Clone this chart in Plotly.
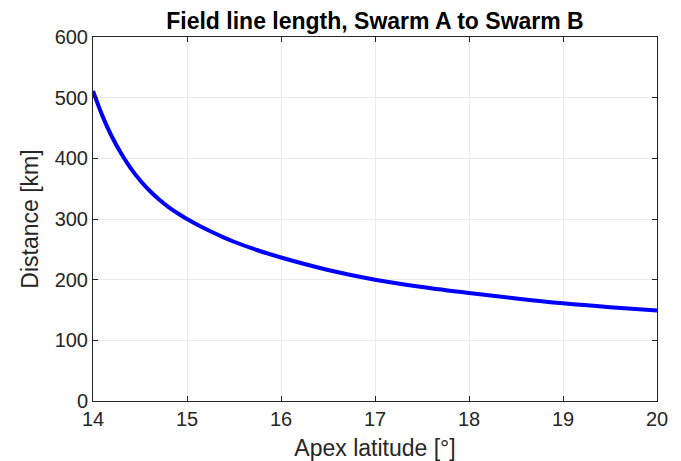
import plotly.graph_objects as go

apex_lat = [14.0, 14.1, 14.2, 14.3, 14.4, 14.5, 14.6, 14.7, 14.8, 14.9, 15.0,
            15.1, 15.2, 15.3, 15.4, 15.5, 15.75, 16.0, 16.5, 17.0, 17.5, 18.0,
            18.5, 19.0, 19.5, 20.0]
distance_km = [511, 470, 436, 408, 384, 364, 347, 332.5, 320, 309.5, 300,
               291.5, 283.5, 276, 269, 262.5, 248.5, 236.5, 216, 200, 188, 178,
               169, 161, 154.5, 149]

x_ticks = [14, 15, 16, 17, 18, 19, 20]
y_ticks = [0, 100, 200, 300, 400, 500, 600]

FONT = "Liberation Sans, Arial, Helvetica, sans-serif"

fig = go.Figure()
fig.add_trace(go.Scatter(x=apex_lat, y=distance_km, mode="lines",
                         line=dict(color="#0000ff", width=4, shape="spline", smoothing=1.0),
                         showlegend=False, hoverinfo="skip"))

axis_common = dict(showline=True, linecolor="#262626", linewidth=1, mirror="ticks",
                   ticks="inside", ticklen=5, tickcolor="#262626", automargin=False,
                   showgrid=True, gridcolor="#ebebeb", gridwidth=1, zeroline=False,
                   tickfont=dict(family=FONT, size=20, color="#262626"))

fig.update_layout(
    width=681, height=461,
    margin=dict(l=85, r=32, t=29, b=68),
    paper_bgcolor="white", plot_bgcolor="white",
    title=dict(text="<b>Field line length, Swarm A to Swarm B</b>", x=0.5, xref="paper",
               xanchor="center", y=1 - 12.5 / 461, yref="container", yanchor="middle",
               font=dict(family=FONT, size=23, color="black")),
    xaxis=dict(range=[14, 20], tickvals=x_ticks,
               title=dict(text="Apex latitude [°]", standoff=10,
                          font=dict(family=FONT, size=23, color="#262626")),
               **axis_common),
    yaxis=dict(range=[0, 600], tickvals=y_ticks,
               title=dict(text="Distance [km]", standoff=9,
                          font=dict(family=FONT, size=23, color="#262626")),
               **axis_common),
)

fig.write_html("out.html")
